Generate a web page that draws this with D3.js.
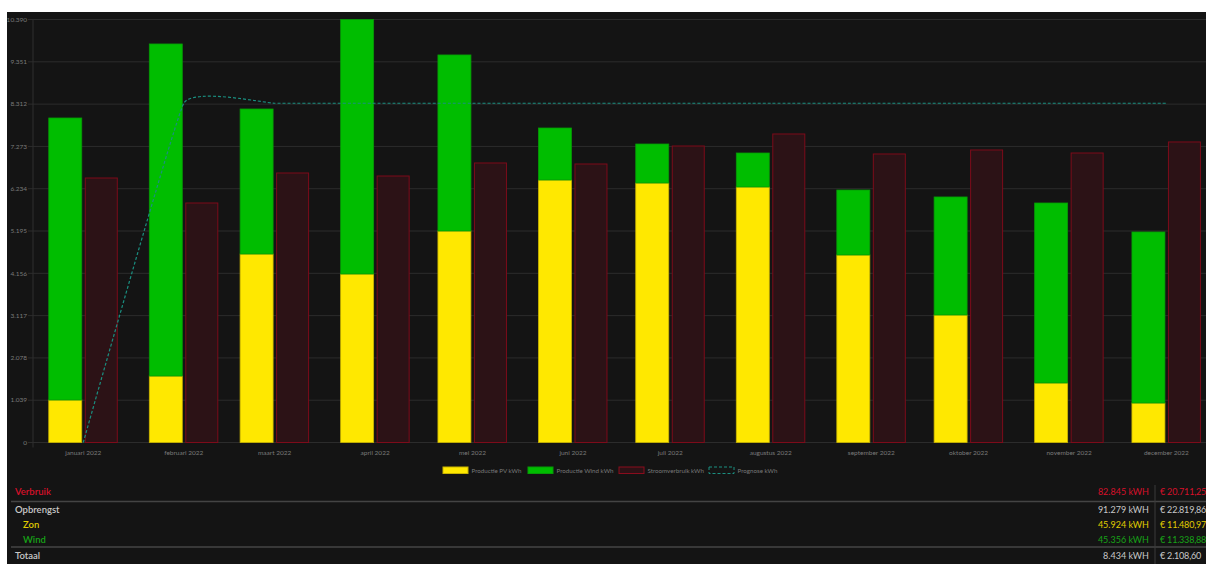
<!DOCTYPE html>
<html>
<head>
<meta charset="utf-8">
<script src="https://cdn.jsdelivr.net/npm/d3@7"></script>
<style>
  html, body { margin: 0; padding: 0; background: #ffffff; }
  svg { display: block; font-family: Lato, "Open Sans", sans-serif; }
</style>
</head>
<body>
<svg id="chart" width="1206" height="564"></svg>
<script>
// ---------- data ----------
const months = ["2022-01-01","2022-02-01","2022-03-01","2022-04-01","2022-05-01","2022-06-01",
                "2022-07-01","2022-08-01","2022-09-01","2022-10-01","2022-11-01","2022-12-01"];
const monthLabels = ["januari 2022","februari 2022","maart 2022","april 2022","mei 2022","juni 2022",
                     "juli 2022","augustus 2022","september 2022","oktober 2022","november 2022","december 2022"];
const productiePV   = [1044, 1633, 4630, 4139, 5195, 6448, 6374, 6276, 4606, 3132, 1462, 970];
const productieWind = [6927, 8156, 3562, 6251, 4324, 1277, 958, 835, 1596, 2899, 4421, 4201];
const stroomverbruik = [6497, 5883, 6620, 6546, 6866, 6841, 7283, 7578, 7087, 7185, 7111, 7382];
const prognose = [0, 8333, 8333, 8333, 8333, 8333, 8333, 8333, 8333, 8333, 8333, 8333];
const yTicks = [0, 1039, 2078, 3117, 4156, 5195, 6234, 7273, 8312, 9351, 10390];
const legendLabels = ["Productie PV kWh", "Productie Wind kWh", "Stroomverbruik kWh", "Prognose kWh"];

const summaryLabels = ["Verbruik", "Opbrengst", "Zon", "Wind", "Totaal"];
const summaryKwh = [82845, 91279, 45924, 45356, 8434];
const summaryEuro = [20711.25, 22819.86, 11480.97, 11338.88, 2108.60];

// ---------- setup ----------
const nl = d3.formatLocale({decimal: ",", thousands: ".", grouping: [3], currency: ["€ ", ""]});
const fmtInt = nl.format(",d");
const fmtEuro = nl.format("$,.2f");
const parse = d3.timeParse("%Y-%m-%d");
const dates = months.map(parse);

const svg = d3.select("#chart");
const W = 1206, H = 564;

// dark panel
svg.append("rect").attr("x", 7).attr("y", 12).attr("width", W - 7).attr("height", H - 12).attr("fill", "#141414");

const plotTop = 19.5, plotBottom = 442.5, plotLeft = 33;
const x = d3.scaleTime()
  .domain([new Date(2021, 11, 16, 12), new Date(2022, 11, 16, 12)])
  .range([plotLeft, 1216.7]);
const y = d3.scaleLinear().domain([0, 10390]).range([plotBottom, plotTop]);

// grid
const grid = svg.append("g");
grid.selectAll("line").data(yTicks).join("line")
  .attr("x1", 28).attr("x2", W)
  .attr("y1", d => y(d)).attr("y2", d => y(d))
  .attr("stroke", "#2c2c2c").attr("stroke-width", 1);
svg.append("line").attr("x1", plotLeft).attr("x2", plotLeft).attr("y1", plotTop).attr("y2", plotBottom + 5)
  .attr("stroke", "#2e2e2e");

// y axis labels
svg.append("g").selectAll("text").data(yTicks).join("text")
  .attr("x", 27).attr("y", d => y(d)).attr("dy", "0.35em")
  .attr("text-anchor", "end").attr("fill", "#7a7a7a").attr("font-size", 6.5)
  .text(d => fmtInt(d));

// bars
const bw = 33, gap = 1.5;
const bars = svg.append("g");
bars.selectAll("rect.pv").data(dates).join("rect").attr("class", "pv")
  .attr("x", d => x(d) - gap - bw).attr("width", bw)
  .attr("y", (d, i) => y(productiePV[i])).attr("height", (d, i) => y(0) - y(productiePV[i]))
  .attr("fill", "#ffe800").attr("stroke", "#c9b400").attr("stroke-width", 0.8);
bars.selectAll("rect.wind").data(dates).join("rect").attr("class", "wind")
  .attr("x", d => x(d) - gap - bw).attr("width", bw)
  .attr("y", (d, i) => y(productiePV[i] + productieWind[i]))
  .attr("height", (d, i) => y(productiePV[i]) - y(productiePV[i] + productieWind[i]))
  .attr("fill", "#00bd00").attr("stroke", "#079a07").attr("stroke-width", 0.8);
bars.selectAll("rect.use").data(dates).join("rect").attr("class", "use")
  .attr("x", d => x(d) + gap + 0.5).attr("width", bw - 1)
  .attr("y", (d, i) => y(stroomverbruik[i])).attr("height", (d, i) => y(0) - y(stroomverbruik[i]))
  .attr("fill", "#2c1216").attr("stroke", "#7d0b1a").attr("stroke-width", 1);

// prognose line
const line = d3.line().x((d, i) => x(dates[i])).y(d => y(d)).curve(d3.curveCardinal.tension(0.72));
svg.append("path").datum(prognose).attr("d", line)
  .attr("fill", "none").attr("stroke", "#1a8f80").attr("stroke-width", 1.2).attr("stroke-dasharray", "3,2");

// x labels
svg.append("g").selectAll("text").data(dates).join("text")
  .attr("x", d => x(d)).attr("y", 455)
  .attr("text-anchor", "middle").attr("fill", "#7a7a7a").attr("font-size", 6.5)
  .text((d, i) => monthLabels[i]);

// legend
const legend = [
  {x: 443, fill: "#ffe800", stroke: "#c9b400", dash: null},
  {x: 528, fill: "#00bd00", stroke: "#079a07", dash: null},
  {x: 619, fill: "#2c1216", stroke: "#8a0c1d", dash: null},
  {x: 709, fill: "none", stroke: "#1a8f80", dash: "3,2"}
];
const lg = svg.append("g");
legend.forEach((l, i) => {
  lg.append("rect").attr("x", l.x).attr("y", 467).attr("width", 25).attr("height", 6.5)
    .attr("fill", l.fill).attr("stroke", l.stroke).attr("stroke-width", 1)
    .attr("stroke-dasharray", l.dash);
  lg.append("text").attr("x", l.x + 28.5).attr("y", 470.5).attr("dy", "0.35em")
    .attr("fill", "#7a7a7a").attr("font-size", 6.2).text(legendLabels[i]);
});

// summary table
const rowY = [492, 509.5, 524.5, 539.5, 555.5];
const rowColor = ["#d8102a", "#c8c8c8", "#e0cc00", "#17a317", "#c8c8c8"];
const rowX = [15, 15, 23, 23, 15];
const tbl = svg.append("g").attr("font-size", 9);
[501.5, 547].forEach(yy => tbl.append("line").attr("x1", 11).attr("x2", W).attr("y1", yy).attr("y2", yy)
  .attr("stroke", "#444").attr("stroke-width", 1.5));
tbl.append("line").attr("x1", 1155).attr("x2", 1155).attr("y1", 485).attr("y2", H).attr("stroke", "#3a3a3a").attr("stroke-width", 1);
summaryLabels.forEach((s, i) => {
  tbl.append("text").attr("x", rowX[i]).attr("y", rowY[i]).attr("dy", "0.35em")
    .attr("fill", rowColor[i]).attr("font-weight", 600).attr("font-size", 9.5).text(s);
  tbl.append("text").attr("x", 1149).attr("y", rowY[i]).attr("dy", "0.35em").attr("text-anchor", "end")
    .attr("fill", rowColor[i]).text(fmtInt(summaryKwh[i]) + " kWH");
  tbl.append("text").attr("x", 1160).attr("y", rowY[i]).attr("dy", "0.35em")
    .attr("fill", rowColor[i]).attr("letter-spacing", -0.2).text(fmtEuro(summaryEuro[i]));
});
</script>
</body>
</html>
